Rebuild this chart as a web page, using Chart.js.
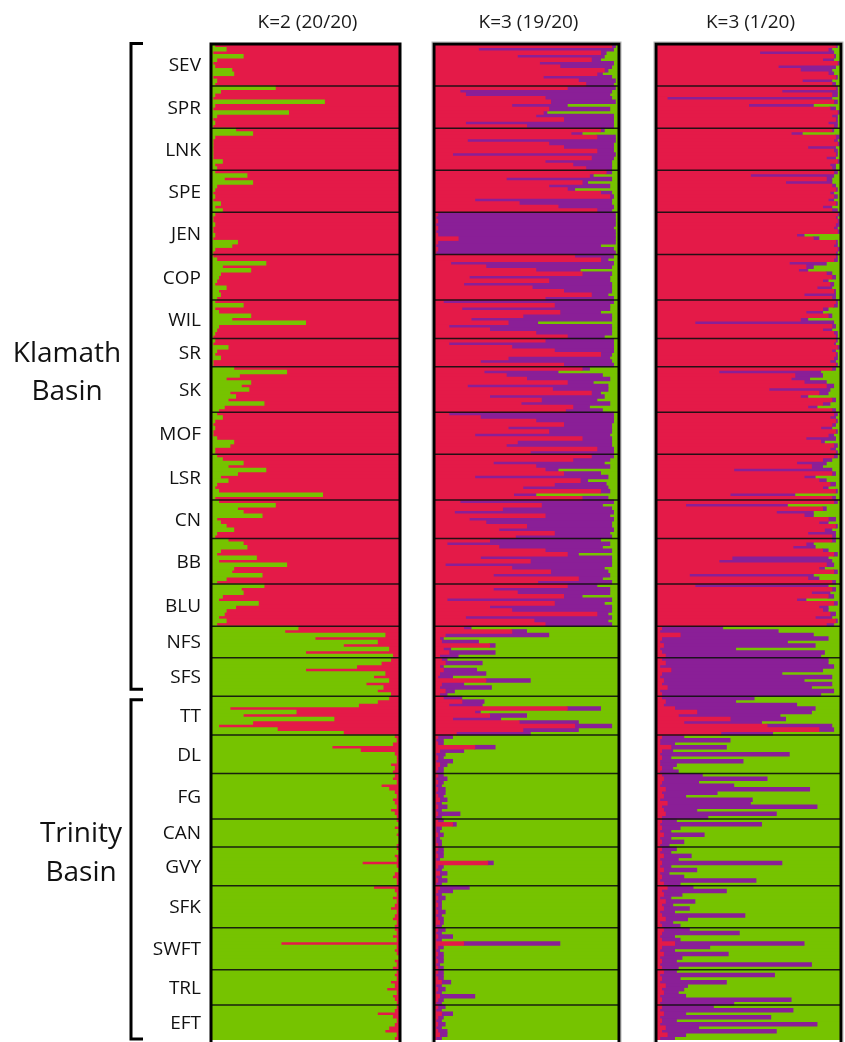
<!DOCTYPE html>
<html>
<head>
<meta charset="utf-8">
<script src="https://cdn.jsdelivr.net/npm/chart.js@4.4.1/dist/chart.umd.min.js"></script>
<style>
  html, body { margin:0; padding:0; background:#fff; }
  body { width:845px; height:1042px; position:relative; overflow:hidden; }
  canvas { position:absolute; top:0; }
</style>
</head>
<body>
<canvas id="c1" width="402" height="1042" style="left:0px"></canvas>
<canvas id="c2" width="202" height="1042" style="left:420px"></canvas>
<canvas id="c3" width="205" height="1042" style="left:640px"></canvas>
<script>
// ---- categories ----
const populations = ['SEV','SPR','LNK','SPE','JEN','COP','WIL','SR','SK','MOF','LSR','CN','BB','BLU','NFS','SFS','TT','DL','FG','CAN','GVY','SFK','SWFT','TRL','EFT'];
const popSizes    = [12,12,12,12,12,13,11,8,13,12,13,11,13,12,9,11,11,11,13,8,11,12,12,10,10];
const panelTitles = ['K=2 (20/20)','K=3 (19/20)','K=3 (1/20)'];
const basins = [['Klamath','Basin'],['Trinity','Basin']];

// ---- panel 1: K=2 (20/20), membership % (green | red) ----
const k2Green = [
 2,8,1,17,3,1,2,11,12,1,3,2,
 34,5,2,1,60,2,1,41,3,1,2,1,
 13,22,2,1,1,1,1,1,1,6,2,3,
 2,19,7,22,3,2,1,2,1,5,2,6,
 2,1,1,2,1,1,2,1,14,11,2,1,
 1,3,29,6,21,5,4,3,2,8,4,5,3,
 2,17,2,4,21,11,50,4,3,2,1,
 2,1,9,3,2,5,1,1,
 12,40,15,8,21,16,20,10,13,9,28,7,4,
 3,6,2,1,2,1,1,3,12,10,2,2,
 3,6,17,9,29,14,5,9,3,2,4,59,2,
 4,34,14,17,27,3,5,8,12,3,2,
 9,17,19,5,3,24,4,40,12,11,27,8,3,
 28,16,17,6,4,25,13,8,7,4,8,3,
 46,39,92,55,88,70,94,50,96,
 95,90,77,50,92,86,94,82,91,88,95,
 94,88,78,10,45,17,65,22,4,35,70,
 97,98,96,64,79,97,98,98,95,97,96,
 97,96,98,90,94,97,98,96,97,98,95,97,98,
 98,99,97,99,98,99,99,98,
 98,99,97,98,80,98,99,97,96,98,98,
 86,97,98,96,98,97,95,98,97,96,98,97,
 97,98,96,98,37,98,97,98,99,97,98,96,
 98,97,98,95,97,93,98,96,97,98,
 98,97,88,96,98,97,94,92,98,97
];
const k2Red = [
 98,92,99,83,97,99,98,89,88,99,97,98,
 66,95,98,99,40,98,99,59,97,99,98,99,
 87,78,98,99,99,99,99,99,99,94,98,97,
 98,81,93,78,97,98,99,98,99,95,98,94,
 98,99,99,98,99,99,98,99,86,89,98,99,
 99,97,71,94,79,95,96,97,98,92,96,95,97,
 98,83,98,96,79,89,50,96,97,98,99,
 98,99,91,97,98,95,99,99,
 88,60,85,92,79,84,80,90,87,91,72,93,96,
 97,94,98,99,98,99,99,97,88,90,98,98,
 97,94,83,91,71,86,95,91,97,98,96,41,98,
 96,66,86,83,73,97,95,92,88,97,98,
 91,83,81,95,97,76,96,60,88,89,73,92,97,
 72,84,83,94,96,75,87,92,93,96,92,97,
 54,61,8,45,12,30,6,50,4,
 5,10,23,50,8,14,6,18,9,12,5,
 6,12,22,90,55,83,35,78,96,65,30,
 3,2,4,36,21,3,2,2,5,3,4,
 3,4,2,10,6,3,2,4,3,2,5,3,2,
 2,1,3,1,2,1,1,2,
 2,1,3,2,20,2,1,3,4,2,2,
 14,3,2,4,2,3,5,2,3,4,2,3,
 3,2,4,2,63,2,3,2,1,3,2,4,
 2,3,2,5,3,7,2,4,3,2,
 2,3,12,4,2,3,6,8,2,3
];

// ---- panel 2: K=3 (19/20), membership % (red | purple | green) ----
const k3aRed = [
 96,24,90,45,85,57,68,92,88,59,78,82,
 72,14,17,60,63,42,62,59,55,70,17,50,
 90,74,88,18,62,70,88,10,85,60,75,82,
 93,84,39,80,62,72,90,95,22,46,67,88,
 2,1,2,1,2,1,2,13,2,1,2,1,
 76,90,9,28,55,80,19,62,16,53,70,85,60,
 5,65,15,68,48,20,40,8,30,55,72,
 60,8,42,65,90,40,25,70,
 80,27,39,50,72,18,64,85,30,58,47,75,71,
 8,25,55,70,40,62,22,80,45,39,88,52,
 85,75,32,55,60,70,22,79,65,48,90,43,80,
 14,58,37,11,60,19,28,50,35,65,44,
 30,7,35,60,72,25,52,6,42,63,32,78,56,
 72,32,45,70,7,65,30,42,88,17,54,60,
 16,42,6,3,4,30,5,8,3,
 4,6,3,5,3,2,28,4,3,6,3,
 5,15,8,72,22,30,10,46,76,48,12,
 2,1,2,22,3,1,2,1,3,2,1,
 2,1,2,1,2,1,2,3,1,2,1,2,1,
 2,10,1,1,2,1,1,2,
 2,1,2,1,29,2,1,3,1,2,1,
 3,2,1,2,1,2,1,2,1,2,3,1,
 2,1,2,1,16,2,1,2,1,2,1,2,
 2,1,2,4,1,2,1,3,2,1,
 2,1,4,2,1,2,1,2,3,1
];
const k3aPurple = [
 2,73,3,47,5,40,28,2,3,37,20,15,
 26,82,78,36,35,30,33,2,42,27,80,47,
 2,6,10,80,35,27,9,88,12,36,21,14,
 3,2,57,3,33,4,6,2,74,50,30,8,
 96,97,96,97,95,97,96,85,96,89,95,97,
 21,4,88,68,24,16,76,33,80,43,26,9,37,
 92,30,80,22,48,76,16,88,66,41,20,
 37,89,55,32,6,55,71,27,
 4,40,52,45,14,76,30,5,62,30,48,9,20,
 89,72,42,26,56,34,73,16,51,57,9,45,
 12,20,60,40,7,20,72,4,28,46,5,12,14,
 83,33,59,86,35,78,68,46,62,30,52,
 60,88,56,36,6,71,44,90,50,31,63,13,40,
 16,63,50,10,89,27,66,54,6,79,40,36,
 4,8,56,2,20,3,4,25,10,
 3,20,2,18,25,8,24,12,28,5,4,
 10,12,18,18,3,20,26,32,20,30,40,
 8,4,3,11,13,5,3,9,4,3,4,
 3,6,3,3,4,5,3,4,3,5,3,12,3,
 3,2,3,2,3,2,3,2,
 3,4,3,2,3,3,3,4,3,5,3,
 16,8,3,4,3,2,3,4,3,3,2,3,
 4,3,8,3,52,3,2,3,4,3,2,3,
 3,4,3,5,3,4,3,19,3,3,
 4,3,6,3,3,4,3,5,4,3
];
const k3aGreen = [
 2,3,7,8,10,3,4,6,9,4,2,3,
 2,4,5,4,2,28,5,39,3,3,3,3,
 8,20,2,2,3,3,3,2,3,4,4,4,
 4,14,4,17,5,24,4,3,4,4,3,4,
 2,2,2,2,3,2,2,2,2,10,3,2,
 3,6,3,4,21,4,5,5,4,4,4,6,3,
 3,5,5,10,4,4,44,4,4,4,8,
 3,3,3,3,4,5,4,3,
 16,33,9,5,14,6,6,10,8,12,5,16,9,
 3,3,3,4,4,4,5,4,4,4,3,3,
 3,5,8,5,33,10,6,17,7,6,5,45,6,
 3,9,4,3,5,3,4,4,3,5,4,
 10,5,9,4,22,4,4,4,8,6,5,9,4,
 12,5,5,20,4,8,4,4,6,4,6,4,
 80,50,38,95,76,67,91,67,87,
 93,74,95,77,72,90,48,84,69,89,93,
 85,73,74,10,75,50,64,22,4,22,48,
 90,95,95,67,84,94,95,90,93,95,95,
 95,93,95,96,94,94,95,93,96,93,96,86,96,
 95,88,96,97,95,97,96,96,
 95,95,95,97,68,95,96,93,96,93,96,
 81,90,96,94,96,96,96,94,96,95,95,96,
 94,96,90,96,32,95,97,95,95,95,97,95,
 95,95,95,91,96,94,96,78,95,96,
 94,96,90,95,96,94,96,93,93,96
];

// ---- panel 3: K=3 (1/20), membership % (red | purple | green) ----
const k3bRed = [
 97,93,56,96,90,98,66,78,93,97,79,95,
 97,68,95,6,96,50,94,98,95,97,93,96,
 95,73,97,96,98,82,96,97,92,98,94,95,
 96,51,92,70,95,97,94,96,93,97,90,95,
 98,97,98,97,96,98,76,85,97,96,98,97,
 97,96,72,81,77,92,95,90,94,87,96,80,95,
 97,96,90,81,93,78,21,95,90,96,97,
 97,96,98,95,97,96,94,97,
 95,34,75,73,80,92,61,88,78,95,90,82,95,
 96,94,97,95,89,97,93,81,89,96,94,97,
 96,90,76,84,42,95,80,88,94,90,97,40,95,
 96,16,90,65,80,93,88,97,91,82,95,
 95,81,74,90,96,41,34,92,88,96,18,82,95,
 21,95,84,93,76,96,88,90,94,86,97,92,
 3,2,13,3,2,4,2,3,5,
 3,5,2,8,3,2,4,3,6,2,3,
 3,5,4,10,22,12,40,15,60,88,35,
 3,2,2,8,3,2,3,2,2,3,2,
 3,4,3,2,5,3,4,2,6,3,4,5,3,
 3,2,3,2,4,2,3,2,
 3,2,4,2,3,2,4,2,3,2,4,
 6,3,4,2,5,3,4,2,3,5,2,3,
 4,3,2,3,10,3,2,4,2,3,2,3,
 4,2,3,2,5,3,4,2,3,2,
 3,2,4,2,3,2,5,3,6,2
];
const k3bPurple = [
 1,2,40,1,6,1,31,17,3,1,16,2,
 1,30,3,89,2,35,3,1,3,1,5,2,
 1,6,2,2,1,15,2,1,5,1,3,2,
 2,45,3,25,2,1,2,2,3,1,5,3,
 1,1,1,2,2,1,4,3,1,2,1,1,
 1,2,20,4,5,3,2,3,2,8,1,17,2,
 1,2,3,9,2,4,75,2,5,2,1,
 1,1,1,2,1,2,3,1,
 2,55,15,10,12,4,33,5,4,2,4,5,2,
 2,3,1,2,6,1,3,16,2,2,3,1,
 2,5,16,6,53,2,6,4,3,3,1,35,2,
 2,55,2,20,5,4,5,1,4,15,2,
 2,4,12,3,2,52,61,4,3,2,67,6,2,
 72,2,10,3,5,2,5,3,3,9,1,4,
 33,64,72,90,69,82,41,88,84,
 90,88,94,82,65,93,76,92,78,94,86,
 50,38,72,76,62,55,30,42,35,8,28,
 12,38,8,30,6,70,5,45,9,6,10,
 22,56,20,40,78,30,12,50,45,84,18,60,25,
 8,55,10,6,22,6,12,5,
 8,6,15,10,65,6,18,5,12,52,9,
 14,35,10,6,16,6,14,8,45,12,7,10,
 14,42,8,10,70,26,8,35,12,8,82,9,
 7,62,10,36,12,12,8,14,70,40,
 28,72,12,60,8,85,18,62,10,8
];
const k3bGreen = [
 2,5,4,3,4,1,3,5,4,2,5,3,
 2,2,2,5,2,15,3,1,2,2,2,2,
 4,21,1,2,1,3,2,2,3,1,3,3,
 2,4,5,5,3,2,4,2,4,2,5,2,
 1,2,1,1,2,1,20,12,2,2,1,2,
 2,2,8,15,18,5,3,7,4,5,3,3,3,
 2,2,7,10,5,18,4,3,5,2,2,
 2,3,1,3,2,2,3,2,
 3,11,10,17,8,4,6,7,18,3,6,13,3,
 2,3,2,3,5,2,4,3,9,2,3,2,
 2,5,8,10,5,3,14,8,3,7,2,25,3,
 2,29,8,15,15,3,7,2,5,3,3,
 3,15,14,7,2,7,5,4,9,2,15,12,3,
 7,3,6,4,19,2,7,7,3,5,2,4,
 64,34,15,7,29,14,57,9,11,
 7,7,4,10,32,5,20,5,16,4,11,
 47,57,24,14,16,33,30,43,5,4,37,
 85,60,90,62,91,28,92,53,89,91,88,
 75,40,77,58,17,67,84,48,49,13,78,35,72,
 89,43,87,92,74,92,85,93,
 89,92,81,88,32,92,78,93,85,46,87,
 80,62,86,92,79,91,82,90,52,83,91,87,
 82,55,90,87,20,71,90,61,86,89,16,88,
 89,36,87,62,83,85,88,84,27,58,
 69,26,84,38,89,13,77,35,84,90
];

// ---- styling ----
const COL = { red:'#E41A48', green:'#76C300', purple:'#8A1F97' };
const FONT = '"Open Sans", "DejaVu Sans", sans-serif';

const rowLabels = populations.flatMap((p, i) => Array.from({length: popSizes[i]}, (_, j) => p + '-' + (j + 1)));
const groups = [];
(function(){ let s = 0; popSizes.forEach((n, i) => { groups.push({name: populations[i], start: s, end: s + n - 1}); s += n; }); })();

function decoPlugin(panelIndex) {
  return {
    id: 'deco' + panelIndex,
    afterDatasetsDraw(chart) {
      const ctx = chart.ctx, a = chart.chartArea, y = chart.scales.y;
      const mid = (i) => (y.getPixelForValue(i - 1) + y.getPixelForValue(i)) / 2;
      ctx.save();
      // population separators
      ctx.strokeStyle = 'rgba(15,15,15,0.9)';
      ctx.lineWidth = 1.5;
      groups.forEach((g, gi) => {
        if (gi === 0) return;
        const yy = mid(g.start);
        ctx.beginPath(); ctx.moveTo(a.left, yy); ctx.lineTo(a.right, yy); ctx.stroke();
      });
      // panel frame
      ctx.strokeStyle = '#000';
      ctx.lineWidth = 3;
      ctx.strokeRect(a.left, a.top, a.right - a.left, a.bottom - a.top + 4);
      if (panelIndex > 0) {
        ctx.strokeStyle = 'rgba(120,120,120,0.55)';
        ctx.lineWidth = 1;
        ctx.strokeRect(a.left - 2, a.top - 2, a.right - a.left + 4, a.bottom - a.top + 8);
      }
      // title
      ctx.fillStyle = '#1a1a1a';
      ctx.font = '19px ' + FONT;
      ctx.textAlign = 'center';
      ctx.textBaseline = 'alphabetic';
      ctx.fillText(panelTitles[panelIndex], (a.left + a.right) / 2 + 2, 28);

      if (panelIndex === 0) {
        // population labels
        ctx.font = '19px ' + FONT;
        ctx.textAlign = 'right';
        ctx.textBaseline = 'middle';
        ctx.fillStyle = '#111';
        groups.forEach(g => {
          const cy = (y.getPixelForValue(g.start) + y.getPixelForValue(g.end)) / 2;
          ctx.fillText(g.name, a.left - 10, cy + 1);
        });
        // basin brackets
        const split = groups.findIndex(g => g.name === 'TT');
        const ySplit = mid(groups[split].start);
        const bx = 131, tx = 143;
        ctx.strokeStyle = '#000';
        ctx.lineWidth = 3;
        ctx.lineCap = 'butt';
        const k0 = a.top - 0.5, k1 = ySplit - 7;
        const t0 = ySplit + 3.5, t1 = a.bottom - 1;
        ctx.beginPath();
        ctx.moveTo(tx, k0); ctx.lineTo(bx, k0); ctx.lineTo(bx, k1); ctx.lineTo(tx, k1);
        ctx.stroke();
        ctx.beginPath();
        ctx.moveTo(tx, t0); ctx.lineTo(bx, t0); ctx.lineTo(bx, t1); ctx.lineTo(tx, t1);
        ctx.stroke();
        // basin names
        ctx.fillStyle = '#111';
        ctx.font = '28px ' + FONT;
        ctx.textAlign = 'center';
        ctx.textBaseline = 'alphabetic';
        const km = (k0 + k1) / 2, tm = (t0 + t1) / 2;
        ctx.fillText(basins[0][0], 67, km - 4);
        ctx.fillText(basins[0][1], 67, km + 34);
        ctx.fillText(basins[1][0], 81, tm - 27);
        ctx.fillText(basins[1][1], 81, tm + 12);
      }
      ctx.restore();
    }
  };
}

function ds(label, data, color) {
  return { label, data, backgroundColor: color, borderWidth: 0, borderSkipped: false,
           barPercentage: 1, categoryPercentage: 1, inflateAmount: 0.5 };
}

function makeChart(id, panelIndex, datasets, padding) {
  new Chart(document.getElementById(id), {
    type: 'bar',
    data: { labels: rowLabels, datasets },
    options: {
      indexAxis: 'y',
      responsive: false,
      animation: false,
      events: [],
      layout: { padding },
      scales: {
        x: { stacked: true, min: 0, max: 100, display: false },
        y: { stacked: true, display: false }
      },
      plugins: { legend: { display: false }, tooltip: { enabled: false }, title: { display: false } }
    },
    plugins: [decoPlugin(panelIndex)]
  });
}

makeChart('c1', 0, [ds('Cluster green', k2Green, COL.green), ds('Cluster red', k2Red, COL.red)],
  { left: 211, right: 2, top: 44, bottom: 2 });
makeChart('c2', 1, [ds('Cluster red', k3aRed, COL.red), ds('Cluster purple', k3aPurple, COL.purple), ds('Cluster green', k3aGreen, COL.green)],
  { left: 14, right: 3, top: 44, bottom: 2 });
makeChart('c3', 2, [ds('Cluster red', k3bRed, COL.red), ds('Cluster purple', k3bPurple, COL.purple), ds('Cluster green', k3bGreen, COL.green)],
  { left: 16, right: 4, top: 44, bottom: 2 });
</script>
</body>
</html>
